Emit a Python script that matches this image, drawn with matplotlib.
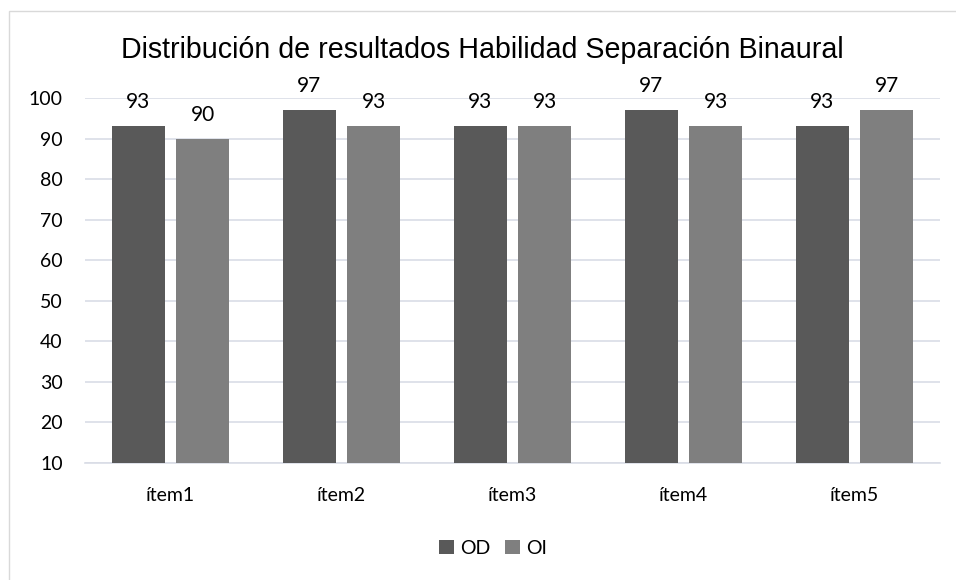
import matplotlib
matplotlib.use("Agg")
import matplotlib.pyplot as plt
import numpy as np
from matplotlib.patches import Rectangle

categories = ["ítem1", "ítem2", "ítem3", "ítem4", "ítem5"]
od_values = [93, 97, 93, 97, 93]
oi_values = [90, 93, 93, 93, 97]
series_names = ["OD", "OI"]
yticks = [10, 20, 30, 40, 50, 60, 70, 80, 90, 100]
title = "Distribución de resultados Habilidad Separación Binaural"

W, H = 956, 580
fig = plt.figure(figsize=(W / 100, H / 100), dpi=100)
fig.patch.set_facecolor("white")

# chart border (top & left visible)
fig.add_artist(Rectangle((9 / W, -0.1), 1.2, 1.1 - 11 / H, transform=fig.transFigure,
                         fill=False, edgecolor="#d9d9d9", lw=1.0))

left, right = 85 / W, 940 / W
top_px, bot_px = 98, 463
ax = fig.add_axes([left, 1 - bot_px / H, right - left, (bot_px - top_px) / H])

x = np.arange(len(categories))
bw = 0.31
off = 0.19
c_od, c_oi = "#595959", "#7f7f7f"
b1 = ax.bar(x - off, [v - 10 for v in od_values], bw, bottom=10, color=c_od, label=series_names[0], zorder=3)
b2 = ax.bar(x + off, [v - 10 for v in oi_values], bw, bottom=10, color=c_oi, label=series_names[1], zorder=3)

fam = ["Lato", "DejaVu Sans"]
for xs, vals in ((x - off, od_values), (x + off, oi_values)):
    for xi, v in zip(xs, vals):
        ax.annotate(f"{v}", (xi, v), xytext=(0, 10), textcoords="offset points",
                    ha="center", va="bottom", family=fam, fontsize=15, color="#000000")

ax.set_xlim(-0.5, len(categories) - 0.5)
ax.set_ylim(10, 100)
ax.set_yticks(yticks)
ax.set_xticks(x)
ax.set_xticklabels(categories)
for lbl in ax.get_yticklabels():
    lbl.set_fontfamily(fam)
    lbl.set_fontsize(14)
for lbl in ax.get_xticklabels():
    lbl.set_fontfamily(fam)
    lbl.set_fontsize(14)
ax.tick_params(axis="both", length=0)
ax.tick_params(axis="y", pad=16)
ax.tick_params(axis="x", pad=17)
ax.grid(axis="y", color="#d9dde6", lw=1.2, zorder=0)
for s in ["top", "right", "left"]:
    ax.spines[s].set_visible(False)
ax.spines["bottom"].set_color("#d9dde6")
ax.spines["bottom"].set_linewidth(1.2)
ax.set_facecolor("none")

fig.text(482 / W, 1 - 50 / H, title, ha="center", va="center",
         family=["Liberation Sans", "DejaVu Sans"], fontsize=20.6, color="#000000")

leg = fig.legend(handles=[b1, b2], labels=series_names, loc="center",
                 bbox_to_anchor=(493 / W, 1 - 548 / H), ncol=2, frameon=False,
                 prop=dict(family=fam, size=14),
                 handlelength=0.75, handleheight=0.75, handletextpad=0.3,
                 columnspacing=0.8)

fig.savefig("out.png", dpi=100)
